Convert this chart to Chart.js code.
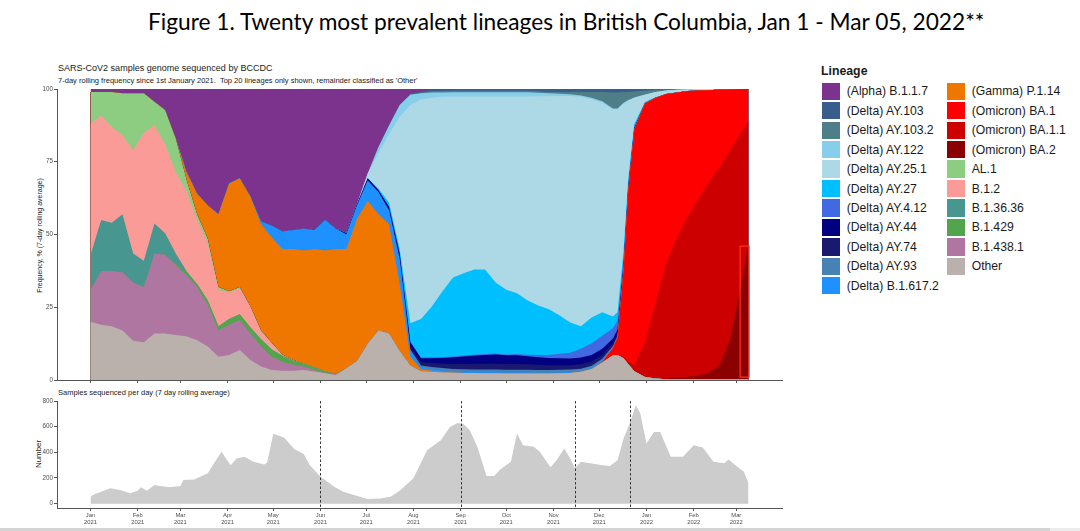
<!DOCTYPE html>
<html>
<head>
<meta charset="utf-8">
<script src="https://cdn.jsdelivr.net/npm/chart.js@4.4.1/dist/chart.umd.min.js"></script>
<style>
html,body{margin:0;padding:0;background:#fff;width:1080px;height:531px;overflow:hidden;font-family:"Liberation Sans",Arial,sans-serif;}
.abs{position:absolute;white-space:nowrap;line-height:1;}
canvas{position:absolute;}
.lg-box{position:absolute;width:18px;height:17.4px;}
.lg-txt{position:absolute;font-size:12.2px;line-height:1;color:#1a1a1a;white-space:nowrap;}
.rot{position:absolute;white-space:nowrap;line-height:1;color:#1a1a1a;transform-origin:center center;}
</style>
</head>
<body>
<div id="title" class="abs" style="left:148px;top:11px;font-size:21px;color:#000;font-family:Lato,'Liberation Sans',sans-serif;">Figure 1. Twenty most prevalent lineages in British Columbia, Jan 1 - Mar 05, 2022**</div>
<div id="sub1" class="abs" style="left:58px;top:63.5px;font-size:9.5px;color:#1a1a1a;">SARS-CoV2 samples genome sequenced by BCCDC</div>
<div id="sub2" class="abs" style="left:58px;top:76.5px;font-size:7px;color:#1a1a1a;">7-day rolling frequency since 1st January 2021.&nbsp; Top 20 lineages only shown, remainder classified as 'Other'</div>
<div id="sub3" class="abs" style="left:58px;top:389.3px;font-size:7.5px;color:#1a1a1a;">Samples sequenced per day (7 day rolling average)</div>
<div id="ytitle1" class="rot" style="font-size:7px;">Frequency, % (7-day rolling average)</div>
<div id="ytitle2" class="rot" style="font-size:7.9px;">Number</div>
<canvas id="topChart" width="800" height="330" style="left:0;top:60px;"></canvas>
<canvas id="botChart" width="800" height="146" style="left:0;top:385px;"></canvas>
<div id="legend"></div>
<div style="position:absolute;left:0;top:527.5px;width:1050px;height:3.5px;background:#d4d4d4;"></div>
<div style="position:absolute;left:1050px;top:527.5px;width:30px;height:3.5px;background:#ececec;"></div>
<script>
// ---------- DATA ----------
const days = [0,7,14,21,28,35,42,49,56,63,70,77,84,91,98,105,112,119,126,133,140,147,154,161,168,175,182,189,196,203,210,217,224,231,238,245,252,259,266,273,280,287,294,301,308,315,322,329,336,343,346,350,353,357,364,371,378,385,392,399,406,413,420,427,432];

const other   = [20,19,18.5,17,13.5,13,16,16,15.5,15, 13.7,11.5,8,8.6,10.3,6.9,4.6,3.4,3.2,3.2, 3.4,2.9,2.3,1.7,4,6.5,12.5,17,16,10, 5,3,2.8,2.6,2.5,2.4,2.4,2.3,2.3,2.2, 2.2,2.2,2.2,2.2,2.3,2.4,2.8,3.8,6,8.5, 8.6,7.5,5.5,3,1,0.5,0.3,0.3,0.3,0.3, 0.3,0.3,0.3,0.3,0.3];
const b14381  = [11,18.5,19,20,20,19,27.5,27,24,21, 18.3,14.3,9,10.4,10.3,9.1,6.9,4.6,3.1,2, 1.2,0.5,0.2,0.2,0,0,0,0,0,0, 0,0,0,0,0,0,0,0,0,0, 0,0,0,0,0,0,0,0,0,0, 0,0,0,0,0,0,0,0,0,0, 0,0,0,0,0];
const b1429   = [0,0,0,0,0,0,0,0,0.5,1, 1,1.5,1.5,2,2,2,2.5,2.5,2,1.5, 1,1,0.5,0.2,0,0,0,0,0,0, 0,0,0,0,0,0,0,0,0,0, 0,0,0,0,0,0,0,0,0,0, 0,0,0,0,0,0,0,0,0,0, 0,0,0,0,0];
const b13636  = [12,17.5,16.5,20,10,9,10.3,7.4,3.5,0.5, 0,0,0,0,0,0,0,0,0,0, 0,0,0,0,0,0,0,0,0,0, 0,0,0,0,0,0,0,0,0,0, 0,0,0,0,0,0,0,0,0,0, 0,0,0,0,0,0,0,0,0,0, 0,0,0,0,0];
const b12     = [45,36,33,27,35.5,44,33.8,30.6,28,27.5, 22,19.7,12.5,9,8.9,7,2.6,2.1,0.3,0.1, 0.1,0.1,0,0,0,0,0,0,0,0, 0,0,0,0,0,0,0,0,0,0, 0,0,0,0,0,0,0,0,0,0, 0,0,0,0,0,0,0,0,0,0, 0,0,0,0,0];
const al1     = [11,8,12,14.5,19.5,13.5,8,11.8,11.5,4, 2,1.5,1,0.5,0.5,0.3,0.4,0.2,0.1,0.1, 0,0,0,0,0,0,0,0,0,0, 0,0,0,0,0,0,0,0,0,0, 0,0,0,0,0,0,0,0,0,0, 0,0,0,0,0,0,0,0,0,0, 0,0,0,0,0];
const ba2     = [0,0,0,0,0,0,0,0,0,0, 0,0,0,0,0,0,0,0,0,0, 0,0,0,0,0,0,0,0,0,0, 0,0,0,0,0,0,0,0,0,0, 0,0,0,0,0,0,0,0,0,0, 0,0,0,0,0,0,0.2,0.5,0.8,1.2, 2.2,4.7,13.7,31.7,46.7];
const ba11    = [0,0,0,0,0,0,0,0,0,0, 0,0,0,0,0,0,0,0,0,0, 0,0,0,0,0,0,0,0,0,0, 0,0,0,0,0,0,0,0,0,0, 0,0,0,0,0,0,0,0,0,0, 0,0.5,1,2,12,26,39.5,48.2,54.9,60.5, 65.5,68,65,53,42];
const ba1     = [0,0,0,0,0,0,0,0,0,0, 0,0,0,0,0,0,0,0,0,0, 0,0,0,0,0,0,0,0,0,0, 0,0,0,0,0,0,0,0,0,0, 0,0,0,0,0,0,0,0,0.3,2.5, 6,30,58.5,81,82,70.5,58.3,49.8,43.3,37.5, 31.6,26.8,20.9,15,11];
const gamma   = [0,0,0,0,0,0,0,0,0,2.5, 7,11.5,25,37,37.3,37.7,36.6,36.2,36.3,38.1, 38.8,40.5,41.5,42.9,41,49,49,40,37.5,23, 3,0.7,0.4,0.2,0,0,0,0,0,0, 0,0,0,0,0,0,0,0,0,0, 0,0,0,0,0,0,0,0,0,0, 0,0,0,0,0];
const b16172  = [0,0,0,0,0,0,0,0,0,0, 0,0,0,0,0,0,0.9,4,6,6.5, 7.5,6.5,10.5,7,5,4.5,7,7.5,4.5,8, 2,0.6,0.5,0.5,0.5,0.5,0.4,0.4,0.4,0.4, 0.4,0.4,0.3,0.3,0.3,0.3,0.3,0.3,0.3,0.2, 0.2,0.1,0,0,0,0,0,0,0,0, 0,0,0,0,0];
const ay93    = [0,0,0,0,0,0,0,0,0,0, 0,0,0,0,0,0,0,0,0,0, 0,0,0,0,0,0,0,0,0.3,0.5, 0.5,0.7,0.8,0.8,0.8,0.8,0.8,0.9,0.9,0.9, 0.9,0.9,0.9,0.9,0.9,0.9,0.8,0.8,0.7,0.5, 0.4,0.3,0.2,0,0,0,0,0,0,0, 0,0,0,0,0];
const ay74    = [0,0,0,0,0,0,0,0,0,0, 0,0,0,0,0,0,0,0,0,0, 0,0,0,0,0,0,0.3,0.3,0.5,0.8, 1,1.2,1.3,1.5,1.7,1.8,2,2,2,2, 2,1.9,1.8,1.7,1.6,1.5,1.5,1.5,1.4,1, 0.8,0.5,0.3,0.2,0,0,0,0,0,0, 0,0,0,0,0];
const ay44    = [0,0,0,0,0,0,0,0,0,0, 0,0,0,0,0,0,0,0,0,0, 0,0,0,0,0.5,0.5,0.5,0.5,0.7,1.2, 1.5,1.3,1.7,2,2.3,2.6,2.8,3,3.2,3, 3,2.8,2.6,2.5,2.4,2.3,2.3,2.2,2,1.6, 1.3,1,0.6,0.3,0,0,0,0,0,0, 0,0,0,0,0];
const ay412   = [0,0,0,0,0,0,0,0,0,0, 0,0,0,0,0,0,0,0,0,0, 0,0,0,0,0,0,0,0,0,0, 0.2,0.2,0.3,0.3,0.3,0.3,0.3,0.3,0.3,0.3, 0.4,0.5,0.8,1,1.5,2,3,4,4.5,3.5, 3,2,1.2,0.6,0.2,0,0,0,0,0, 0,0,0,0,0];
const ay27    = [0,0,0,0,0,0,0,0,0,0, 0,0,0,0,0,0,0,0,0,0, 0,0,0,0,0,0,0,0.5,1.5,1.5, 6.3,13.3,17.4,22.5,27.1,28.3,29.3,29.1,24.4,22.2, 20.9,18.6,17,15.7,13.2,10.4,7.8,8.9,8.1,4, 3,2.5,1.5,0.8,0.3,0.2,0,0,0,0, 0,0,0,0,0];
const ay251   = [0,0,0,0,0,0,0,0,0,0, 0,0,0,0,0,0,0,0,0,0, 0,0,0,0,0,0,1.7,12,23.5,45.5, 75,75.5,71.8,66.9,62.2,60.7,59.4,59.4,63.9,66.4, 67.6,70.1,71.9,73.2,75.4,77.8,78.8,75,72.1,71.2, 69.7,50.6,27.2,9.1,2.5,1.8,1.2,0.9,0.6,0.5, 0.4,0.2,0.1,0,0];
const ay122   = [0,0,0,0,0,0,0,0,0,0, 0,0,0,0,0,0,0,0,0,0, 0,0,0,0,0,0,0,2.2,3,4, 3.5,2,1.8,1.5,1.5,1.5,1.5,1.5,1.5,1.5, 1.5,1.5,1.2,1,0.8,0.6,0.5,0.5,0.4,0.3, 0.3,0.3,0.2,0.1,0.1,0,0,0,0,0, 0,0,0,0,0];
const ay1032  = [0,0,0,0,0,0,0,0,0,0, 0,0,0,0,0,0,0,0,0,0, 0,0,0,0,0,0,0,0,0,0, 0.2,0.3,0.4,0.5,0.5,0.5,0.5,0.5,0.5,0.5, 0.5,0.5,0.5,0.5,0.6,0.8,1.2,2,3.2,5.5, 5.5,3.7,2.8,2,1.3,0.7,0.3,0.2,0.1,0, 0,0,0,0,0];
const ay103   = [0,0,0,0,0,0,0,0,0,0, 0,0,0,0,0,0,0,0,0,0, 0,0,0,0,0,0,0,0,0,0, 0.3,0.4,0.5,0.6,0.6,0.6,0.6,0.6,0.6,0.6, 0.6,0.6,0.8,1,1,1,1,1,1,1.2, 1.2,1,1,0.9,0.6,0.3,0.2,0.1,0,0, 0,0,0,0,0];
const alpha   = [1,1,1,1.5,1.5,1.5,4.4,7.2,17,28.5, 36,40,43,32.5,30.7,37,45.5,47,49,48.5, 48,48.5,45,48,49.5,39.5,29,20,12.5,5.5, 1.5,0.8,0.3,0.1,0,0,0,0,0,0, 0,0,0,0,0,0,0,0,0,0, 0,0,0,0,0,0,0,0,0,0, 0,0,0,0,0];

const sampleDays = [0,3,7,13,20,26,31,33,37,42,46,52,59,61,68,72,77,81,86,92,96,101,107,114,116,120,127,134,140,144,151,160,166,173,182,190,197,203,212,221,230,236,241,245,249,254,260,265,269,276,280,284,291,295,302,306,311,315,318,322,328,335,341,346,350,354,358,361,365,370,374,381,389,396,402,409,416,419,424,429,432];
const samplesPerDay = [55,75,93,119,104,80,100,127,101,145,137,127,137,184,189,210,236,313,404,300,352,365,326,305,320,545,515,424,386,300,210,132,93,67,36,41,54,100,197,417,495,598,629,619,572,443,215,215,267,326,547,456,443,404,283,339,430,352,275,326,314,301,293,339,508,624,767,702,469,559,559,365,365,456,438,326,314,345,293,249,158];

const monthTicks = [0,31,59,90,120,151,181,212,243,273,304,334,365,396,424];
const monthLabels = [["Jan","2021"],["Feb","2021"],["Mar","2021"],["Apr","2021"],["May","2021"],["Jun","2021"],["Jul","2021"],["Aug","2021"],["Sep","2021"],["Oct","2021"],["Nov","2021"],["Dec","2021"],["Jan","2022"],["Feb","2022"],["Mar","2022"]];
const freqTicks = [0,25,50,75,100];
const countTicks = [0,200,400,600,800];
const markerDays = [151,243,318,354];
const highlight = {x0:426.5, x1:432.4, y0:1, y1:46};

// legend order (as in reference) and colours
const legendNames = ["(Alpha) B.1.1.7","(Delta) AY.103","(Delta) AY.103.2","(Delta) AY.122","(Delta) AY.25.1","(Delta) AY.27","(Delta) AY.4.12","(Delta) AY.44","(Delta) AY.74","(Delta) AY.93","(Delta) B.1.617.2",
  "(Gamma) P.1.14","(Omicron) BA.1","(Omicron) BA.1.1","(Omicron) BA.2","AL.1","B.1.2","B.1.36.36","B.1.429","B.1.438.1","Other"];
const legendColors = ["#7b338d","#3a5e8c","#4e7f88","#87ceeb","#add8e6","#00bfff","#4169e1","#000080","#191970","#4682b4","#1e90ff",
  "#ef7700","#ff0000","#cd0000","#8b0000","#8ccd82","#fb9b98","#47968f","#52a54c","#ae76a0","#bab0ac"];
const seriesByName = {
  "(Alpha) B.1.1.7":alpha,"(Delta) AY.103":ay103,"(Delta) AY.103.2":ay1032,"(Delta) AY.122":ay122,"(Delta) AY.25.1":ay251,"(Delta) AY.27":ay27,
  "(Delta) AY.4.12":ay412,"(Delta) AY.44":ay44,"(Delta) AY.74":ay74,"(Delta) AY.93":ay93,"(Delta) B.1.617.2":b16172,"(Gamma) P.1.14":gamma,
  "(Omicron) BA.1":ba1,"(Omicron) BA.1.1":ba11,"(Omicron) BA.2":ba2,"AL.1":al1,"B.1.2":b12,"B.1.36.36":b13636,"B.1.429":b1429,"B.1.438.1":b14381,"Other":other
};

// ---------- LAYOUT HELPERS ----------
function fitWidth(id, w){
  const el=document.getElementById(id);
  const cur=el.getBoundingClientRect().width;
  const fs=parseFloat(el.style.fontSize);
  el.style.fontSize=(fs*w/cur)+'px';
}
fitWidth('title',837); fitWidth('sub1',215); fitWidth('sub2',360); fitWidth('sub3',172);
function placeRot(id,cx,cy){
  const el=document.getElementById(id);
  const r=el.getBoundingClientRect();
  el.style.left=(cx-r.width/2)+'px'; el.style.top=(cy-r.height/2)+'px';
  el.style.transform='rotate(-90deg)';
}
placeRot('ytitle1',39,235); placeRot('ytitle2',39,454);

// legend
const lg=document.getElementById('legend');
const lt=document.createElement('div'); lt.className='abs';
lt.style.cssText='left:821px;top:65.3px;font-size:12.3px;font-weight:bold;color:#1a1a1a;';
lt.textContent='Lineage'; lg.appendChild(lt);
legendNames.forEach((n,i)=>{
  const col=i<11?0:1, row=i<11?i:i-11;
  const cy=91.3+19.45*row;
  const bx=col===0?821.7:946.7, tx=col===0?846.7:971.7;
  const b=document.createElement('div'); b.className='lg-box';
  b.style.left=bx+'px'; b.style.top=(cy-8.7)+'px'; b.style.background=legendColors[i];
  lg.appendChild(b);
  const t=document.createElement('div'); t.className='lg-txt';
  t.style.left=tx+'px'; t.style.top=(cy-6)+'px'; t.textContent=n;
  lg.appendChild(t);
});

// ---------- CHARTS ----------
const stackOrder = ["Other","B.1.438.1","B.1.429","B.1.36.36","B.1.2","AL.1","(Omicron) BA.2","(Omicron) BA.1.1","(Omicron) BA.1","(Gamma) P.1.14",
  "(Delta) B.1.617.2","(Delta) AY.93","(Delta) AY.74","(Delta) AY.44","(Delta) AY.4.12","(Delta) AY.27","(Delta) AY.25.1","(Delta) AY.122","(Delta) AY.103.2","(Delta) AY.103","(Alpha) B.1.1.7"];

const axisCol='#555', tickCol='#555';
const FONT='"Liberation Sans", Arial, sans-serif';

const topDatasets = stackOrder.map(n=>({
  label:n,
  data: days.map((d,i)=>({x:d,y:seriesByName[n][i]})),
  backgroundColor: legendColors[legendNames.indexOf(n)],
  borderColor:'rgba(0,0,0,0)', borderWidth:0, pointRadius:0, tension:0, fill:'origin'
}));

const boxPlugin = {
  id:'box',
  afterDatasetsDraw(chart){
    const {ctx, scales:{x,y}} = chart;
    const x0=x.getPixelForValue(highlight.x0), x1=x.getPixelForValue(highlight.x1);
    const y0=y.getPixelForValue(highlight.y0), y1=y.getPixelForValue(highlight.y1);
    ctx.save(); ctx.strokeStyle='#ff3322'; ctx.lineWidth=1.2;
    ctx.strokeRect(x0, y1, x1-x0, y0-y1); ctx.restore();
  }
};

new Chart(document.getElementById('topChart'),{
  type:'line',
  data:{datasets:topDatasets},
  options:{
    responsive:false, animation:false, events:[],
    layout:{padding:{left:0,right:18,top:29,bottom:0}},
    plugins:{legend:{display:false},tooltip:{enabled:false}},
    scales:{
      x:{type:'linear',min:-22,max:454,
        afterBuildTicks:s=>{s.ticks=monthTicks.map(v=>({value:v}));},
        afterFit:s=>{s.height=10;},
        ticks:{autoSkip:false,maxRotation:0,callback:()=>'',font:{size:5}},
        grid:{drawOnChartArea:false,drawTicks:true,tickLength:3,color:tickCol},
        border:{display:true,color:axisCol,width:1}},
      y:{stacked:true,min:0,max:100,
        afterBuildTicks:s=>{s.ticks=freqTicks.map(v=>({value:v}));},
        afterFit:s=>{s.width=57;},
        ticks:{font:{size:6.3,family:FONT},color:'#4d4d4d',padding:1},
        grid:{drawOnChartArea:false,drawTicks:true,tickLength:3,color:tickCol},
        border:{display:true,color:axisCol,width:1}}
    }
  },
  plugins:[boxPlugin]
});

const linePlugin = {
  id:'vlines',
  afterDatasetsDraw(chart){
    const {ctx, chartArea, scales:{x}} = chart;
    ctx.save(); ctx.strokeStyle='#222'; ctx.lineWidth=0.9; ctx.setLineDash([2.5,2]);
    markerDays.forEach(d=>{
      const px=Math.round(x.getPixelForValue(d))+0.5;
      ctx.beginPath(); ctx.moveTo(px,chartArea.top); ctx.lineTo(px,chartArea.bottom); ctx.stroke();
    });
    ctx.restore();
  }
};

new Chart(document.getElementById('botChart'),{
  type:'line',
  data:{datasets:[{label:'Samples',data:sampleDays.map((d,i)=>({x:d,y:samplesPerDay[i]})),
    backgroundColor:'#cccccc',borderColor:'rgba(0,0,0,0)',borderWidth:0,pointRadius:0,tension:0,fill:'origin'}]},
  options:{
    responsive:false, animation:false, events:[],
    layout:{padding:{left:0,right:18,top:16,bottom:0}},
    plugins:{legend:{display:false},tooltip:{enabled:false}},
    scales:{
      x:{type:'linear',min:-22,max:454,
        afterBuildTicks:s=>{s.ticks=monthTicks.map(v=>({value:v}));},
        afterFit:s=>{s.height=23;},
        ticks:{autoSkip:false,maxRotation:0,padding:1,color:'#4d4d4d',font:{size:5.8,family:FONT,lineHeight:1.2},
          callback:(v,i)=>monthLabels[i]},
        grid:{drawOnChartArea:false,drawTicks:true,tickLength:3,color:tickCol},
        border:{display:true,color:axisCol,width:1}},
      y:{min:-34,max:800,
        afterBuildTicks:s=>{s.ticks=countTicks.map(v=>({value:v}));},
        afterFit:s=>{s.width=57;},
        ticks:{font:{size:6.3,family:FONT},color:'#4d4d4d',padding:1},
        grid:{drawOnChartArea:false,drawTicks:true,tickLength:3,color:tickCol},
        border:{display:true,color:axisCol,width:1}}
    }
  },
  plugins:[linePlugin]
});
</script>
</body>
</html>
